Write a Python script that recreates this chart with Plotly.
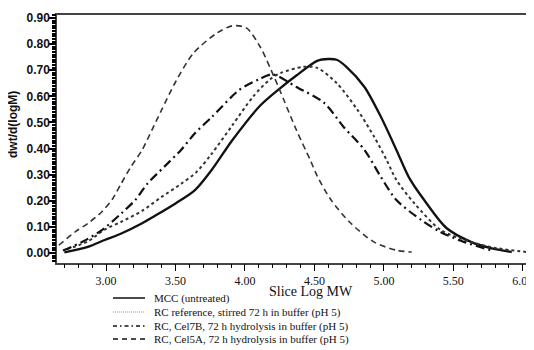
import plotly.graph_objects as go

# ---- data ----
mcc_x = [2.70, 2.87, 2.99, 3.11, 3.26, 3.35, 3.50, 3.64, 3.76, 3.91, 4.11, 4.25, 4.37, 4.52, 4.60, 4.66, 4.73, 4.86, 4.98, 5.09, 5.18, 5.29, 5.45, 5.63, 5.77, 5.92]
mcc_y = [0.003, 0.024, 0.05, 0.075, 0.114, 0.142, 0.19, 0.241, 0.318, 0.433, 0.565, 0.63, 0.68, 0.736, 0.743, 0.740, 0.713, 0.636, 0.52, 0.395, 0.29, 0.203, 0.096, 0.042, 0.019, 0.004]

ref_x = [2.72, 2.87, 2.99, 3.11, 3.26, 3.40, 3.54, 3.65, 3.76, 3.91, 4.06, 4.18, 4.26, 4.42, 4.52, 4.66, 4.81, 4.93, 5.02, 5.09, 5.22, 5.41, 5.63, 5.81, 6.03]
ref_y = [0.015, 0.045, 0.09, 0.12, 0.162, 0.215, 0.265, 0.31, 0.38, 0.49, 0.60, 0.665, 0.69, 0.713, 0.709, 0.651, 0.548, 0.445, 0.356, 0.28, 0.19, 0.088, 0.042, 0.019, 0.004]

c7b_x = [2.69, 2.83, 2.97, 3.11, 3.21, 3.30, 3.42, 3.54, 3.64, 3.76, 3.96, 4.10, 4.20, 4.37, 4.57, 4.71, 4.86, 4.98, 5.09, 5.27, 5.41, 5.58, 5.77]
c7b_y = [0.01, 0.043, 0.088, 0.152, 0.203, 0.267, 0.331, 0.395, 0.459, 0.52, 0.625, 0.665, 0.684, 0.636, 0.575, 0.483, 0.395, 0.29, 0.203, 0.126, 0.080, 0.042, 0.011]

c5a_x = [2.66, 2.78, 2.87, 2.97, 3.05, 3.11, 3.18, 3.26, 3.33, 3.40, 3.50, 3.63, 3.80, 3.91, 4.01, 4.11, 4.21, 4.28, 4.37, 4.47, 4.52, 4.62, 4.76, 4.93, 5.09, 5.20]
c5a_y = [0.03, 0.082, 0.114, 0.158, 0.21, 0.267, 0.331, 0.395, 0.471, 0.548, 0.655, 0.766, 0.843, 0.87, 0.862, 0.789, 0.674, 0.586, 0.471, 0.356, 0.295, 0.203, 0.115, 0.042, 0.011, 0.004]

series_names = [
    "MCC (untreated)",
    "RC reference, stirred 72 h in buffer (pH 5)",
    "RC, Cel7B, 72 h hydrolysis in buffer (pH 5)",
    "RC, Cel5A, 72 h hydrolysis in buffer (pH 5)",
]

x_title = "Slice Log MW"
y_title = "dwt/d(logM)"

X_RANGE = [2.647, 6.03]
Y_RANGE = [-0.038, 0.9115]

# ---- styles ----
styles = [
    dict(color="#111111", width=2.3, dash="solid"),
    dict(color="#333333", width=2.0, dash="dot"),
    dict(color="#111111", width=2.2, dash="9px,4px,2px,4px"),
    dict(color="#333333", width=1.6, dash="6px,4px"),
]
legend_styles = [
    dict(color="#111111", width=1.5, dash="solid"),
    dict(color="#999999", width=1.0, dash="1px,1px"),
    dict(color="#111111", width=1.3, dash="4px,3px,1.5px,3px"),
    dict(color="#111111", width=1.3, dash="5px,4px"),
]

fig = go.Figure()
for (xs, ys), name, st in zip(
    [(mcc_x, mcc_y), (ref_x, ref_y), (c7b_x, c7b_y), (c5a_x, c5a_y)], series_names, styles
):
    fig.add_trace(go.Scatter(
        x=xs, y=ys, mode="lines", name=name, showlegend=False,
        line=dict(color=st["color"], width=st["width"], dash=st["dash"], shape="spline", smoothing=0.8),
    ))
# empty trace so the overlay axes (fine tick marks) are drawn
fig.add_trace(go.Scatter(x=[], y=[], xaxis="x2", yaxis="y2", showlegend=False, hoverinfo="skip"))

# The page body has an 8px margin, so the figure sits 8px in from the window edge.
OFF = 8
FIG_W = 534 - OFF
FIG_H = 350 - OFF
# plot area geometry in window px: left 57, right 527, top 15, bottom 263
PW, PH = 470.0, 248.0

def px_x(px):
    return (px - 57) / PW

def px_y(py):
    return (263 - py) / PH

annotations = [
    dict(text=y_title, x=px_x(13), y=px_y(125), xref="paper", yref="paper",
         textangle=-90, showarrow=False, xanchor="center", yanchor="middle",
         font=dict(family="Liberation Sans", size=12, color="#111", weight="bold")),
    dict(text=x_title, x=px_x(311), y=px_y(291), xref="paper", yref="paper",
         showarrow=False, xanchor="center", yanchor="middle",
         font=dict(family="Liberation Serif", size=14, color="#111")),
]
shapes = []
row_y = [298, 312, 326, 339]
for name, st, ry in zip(series_names, legend_styles, row_y):
    annotations.append(dict(text=name, x=px_x(152), y=px_y(ry), xref="paper", yref="paper",
                            showarrow=False, xanchor="left", yanchor="middle",
                            font=dict(family="Liberation Serif", size=11, color="#111")))
    shapes.append(dict(type="line", xref="paper", yref="paper",
                       x0=px_x(113), x1=px_x(145), y0=px_y(ry), y1=px_y(ry),
                       line=dict(color=st["color"], width=st["width"], dash=st["dash"])))

top = 15 - OFF
bottom = FIG_H - (top + int(PH))
fig.update_layout(
    width=FIG_W, height=FIG_H,
    margin=dict(l=57 - OFF, r=FIG_W - (57 - OFF) - int(PW), t=top, b=bottom, autoexpand=False),
    paper_bgcolor="white", plot_bgcolor="white",
    showlegend=False,
    annotations=annotations,
    shapes=shapes,
    xaxis=dict(
        range=X_RANGE, tick0=3.0, dtick=0.5, tickformat=".2f",
        ticks="outside", ticklen=6, tickwidth=1.4, tickcolor="#000",
        showline=True, linecolor="#444", linewidth=2, mirror=True,
        showgrid=False, zeroline=False, ticklabeloverflow="allow",
        tickfont=dict(family="Liberation Serif", size=12, color="#111"),
    ),
    yaxis=dict(
        range=Y_RANGE, tick0=0, dtick=0.1, tickformat=".2f",
        ticks="outside", ticklen=6, tickwidth=1.6, tickcolor="#000",
        showline=True, linecolor="#444", linewidth=1.5, mirror="allticks",
        showgrid=False, zeroline=False, ticklabelstandoff=-3,
        tickfont=dict(family="Liberation Sans", size=12, color="#111", weight="bold"),
    ),
    xaxis2=dict(
        overlaying="x", anchor="y", side="bottom", range=X_RANGE,
        tick0=3.0, dtick=0.1, ticks="outside", ticklen=4, tickwidth=1.3, tickcolor="#000",
        showticklabels=False, showline=False, showgrid=False, zeroline=False,
    ),
    yaxis2=dict(
        overlaying="y", anchor="x", side="left", range=Y_RANGE,
        tick0=0, dtick=0.01, ticks="outside", ticklen=4, tickwidth=1.5, tickcolor="#000",
        mirror="ticks", showticklabels=False, showline=False, showgrid=False, zeroline=False,
    ),
)

fig.write_html("out.html")
